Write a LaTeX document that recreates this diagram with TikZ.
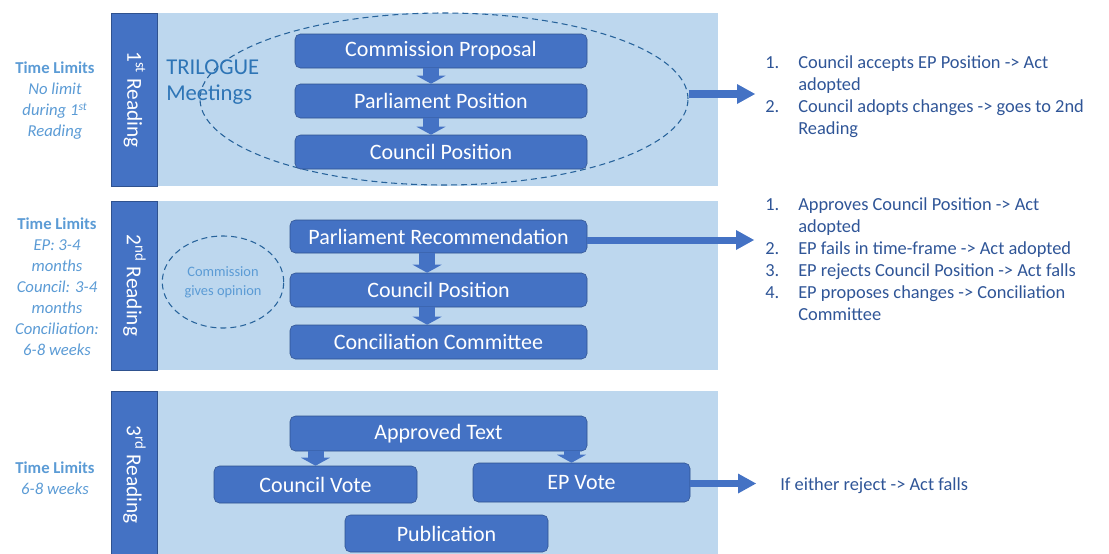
\documentclass[tikz,border=0pt]{standalone}
\usepackage{fontspec}
\setmainfont{Carlito}
\usetikzlibrary{shapes.geometric,arrows.meta}

\definecolor{boxblue}{HTML}{4472C4}
\definecolor{boxedge}{HTML}{2F528F}
\definecolor{bandblue}{HTML}{BDD7EE}
\definecolor{listblue}{HTML}{2F5597}
\definecolor{limitblue}{HTML}{5B9BD5}
\definecolor{trilogueblue}{HTML}{2E75B6}

\begin{document}
\begin{tikzpicture}
[x=0.75pt, y=-0.75pt,
 band/.style ={fill=bandblue},
 reading/.style ={rectangle, draw=boxedge, fill=boxblue, text=white, rotate=-90, minimum height=34.5pt, font=\fontsize{16}{19}\selectfont},
 stage/.style ={rectangle, draw=boxedge, fill=boxblue, text=white, rounded corners=4pt, font=\fontsize{16.5}{20}\selectfont},
 meeting/.style ={ellipse, draw=trilogueblue!85!black, line width=0.8pt, dash pattern=on 4.5pt off 3pt},
 limits/.style ={text=limitblue, align=center, inner sep=0pt, font=\fontsize{12.5}{15.75}\selectfont},
 outcomes/.style ={text=listblue, anchor=base west, inner sep=0pt, font=\fontsize{13.8}{16.5}\selectfont},
 flow/.style ={draw=boxblue, line width=12pt, -{Triangle[width=21.75pt, length=6pt, line width=0pt]}},
 result/.style ={draw=boxblue, line width=5.25pt, -{Triangle[width=15pt, length=13.5pt, line width=0pt]}}]
\useasboundingbox (0,0) rectangle (1109,553);

% background bands
\fill[band] (112,13) rectangle (718,186);
\fill[band] (112,201) rectangle (718,370);
\fill[band] (112,391) rectangle (718,560);

% reading strips
\node[reading, minimum width=129.75pt] (r1) at (134.5,99.5) {1\textsuperscript{st} Reading};
\node[reading, minimum width=126.75pt] (r2) at (134.5,285.5) {2\textsuperscript{nd} Reading};
\node[reading, minimum width=125.25pt] (r3) at (134.5,474.5) {3\textsuperscript{rd} Reading};

% time limits
\node[limits] (lim1) at (55,101) {\textbf{Time Limits}\\\textit{No limit}\\\textit{during 1\textsuperscript{st}}\\\textit{Reading}};
\node[limits] (lim2) at (57,287) {\textbf{Time Limits}\\\textit{EP: 3-4}\\\textit{months}\\\textit{Council: 3-4}\\\textit{months}\\\textit{Conciliation:}\\\textit{6-8 weeks}};
\node[limits] (lim3) at (55,478) {\textbf{Time Limits}\\\textit{6-8 weeks}};

% first reading
\node[meeting, minimum width=366pt, minimum height=129pt] (tri) at (444,99) {};
\node[text=trilogueblue, align=left, anchor=west, inner sep=0pt, font=\fontsize{17}{20}\selectfont] (tritext) at (166,82) {TRILOGUE\\Meetings};
\node[stage, minimum width=219pt, minimum height=25.5pt] (cp) at (441,51) {Commission Proposal};
\node[stage, minimum width=219pt, minimum height=25.5pt] (pp) at (441,101) {Parliament Position};
\node[stage, minimum width=219pt, minimum height=25.5pt] (cpos) at (441,152) {Council Position};
\draw[flow] ([xshift=-7.5pt]cp.south) -- ([xshift=-7.5pt]pp.north);
\draw[flow] ([xshift=-7.5pt]pp.south) -- ([xshift=-7.5pt]cpos.north);

% second reading
\node[meeting, minimum width=86.25pt, minimum height=69pt, text=limitblue, align=center, font=\fontsize{10.8}{14}\selectfont] (opinion) at (223,282) {Commission\\gives opinion};
\node[stage, minimum width=222.75pt, minimum height=24.75pt] (pr) at (438.5,236.5) {Parliament Recommendation};
\node[stage, minimum width=222.75pt, minimum height=25.5pt] (cpos2) at (438.5,290) {Council Position};
\node[stage, minimum width=222.75pt, minimum height=25.5pt] (cc) at (438.5,342) {Conciliation Committee};
\draw[flow] ([xshift=-8.5pt]pr.south) -- ([xshift=-8.5pt]cpos2.north);
\draw[flow] ([xshift=-8.5pt]cpos2.south) -- ([xshift=-8.5pt]cc.north);

% third reading
\node[stage, minimum width=222.75pt, minimum height=26.25pt] (at) at (438.5,433.5) {Approved Text};
\node[stage, minimum width=152.25pt, minimum height=27.75pt] (cv) at (315.5,484.5) {Council Vote};
\node[stage, minimum width=162.75pt, minimum height=29.25pt] (ep) at (581.5,482.5) {EP Vote};
\node[stage, minimum width=152.25pt, minimum height=27.75pt] (pub) at (446.5,533.5) {Publication};
\coordinate (epin) at ([xshift=-7.5pt]ep.north);
\draw[flow] (at.south -| cv.north) -- (cv.north);
\draw[flow] (epin |- at.south) -- (epin);

% outcomes
\coordinate (out1) at (755,94);
\coordinate (out2) at (754,240);
\coordinate (out3) at (756,483.5);
\draw[result, line width=6pt] (tri.east |- out1) -- (out1);
\draw[result] (pr.east |- out2) -- (out2);
\draw[result] (ep.east |- out3) -- (out3);

\node[outcomes] (list1) at (765,68) {\begin{tabular}[t]{@{}p{24.75pt}@{}l@{}}
1. & Council accepts EP Position -> Act\\
 & adopted\\
2. & Council adopts changes -> goes to 2nd\\
 & Reading
\end{tabular}};
\node[outcomes] (list2) at (765,210) {\begin{tabular}[t]{@{}p{24.75pt}@{}l@{}}
1. & Approves Council Position -> Act\\
 & adopted\\
2. & EP fails in time-frame -> Act adopted\\
3. & EP rejects Council Position -> Act falls\\
4. & EP proposes changes -> Conciliation\\
 & Committee
\end{tabular}};
\node[outcomes] (list3) at (780,490) {If either reject -> Act falls};
\end{tikzpicture}
\end{document}
